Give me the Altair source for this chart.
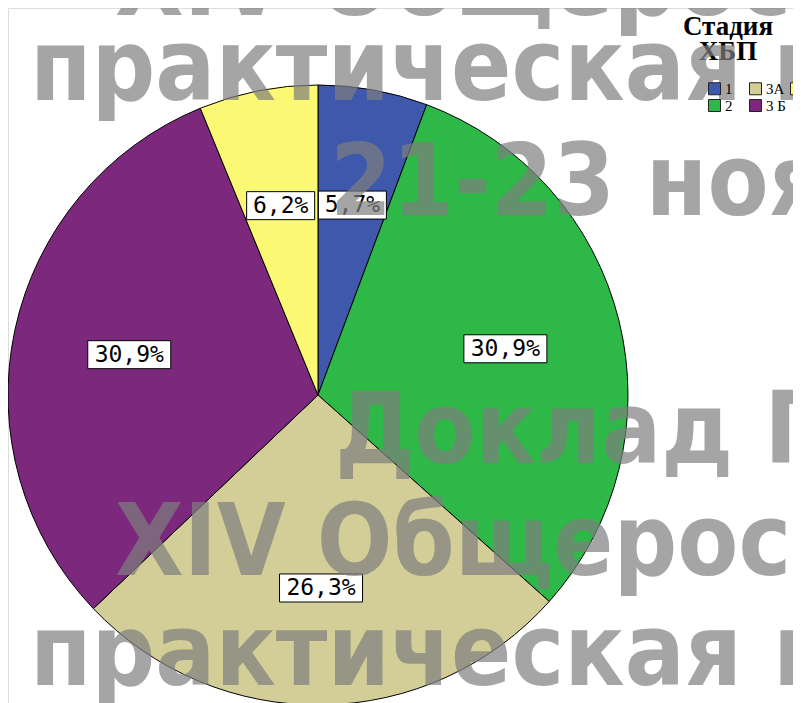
import altair as alt
import pandas as pd

# ---- data ----
stages = ["1", "2", "3А", "3 Б", "4"]
percent = [5.7, 30.9, 26.3, 30.9, 6.2]
labels = ["5,7%", "30,9%", "26,3%", "30,9%", "6,2%"]
stage_colors = ["#3E58AC", "#2EB848", "#D3CE97", "#7C287D", "#FBF873"]
legend_title = ["Стадия", "ХБП"]
watermark_lines = ["XIV Общероссийская", "практическая конференция", "21-23 ноября",
                   "Доклад П", "XIV Общероссийская", "практическая конференция"]

df = pd.DataFrame({"stage": stages, "pct": percent, "label": labels, "idx": list(range(len(stages)))})

# ---- layout constants ----
CX, CY, R, LR = 310, 387, 310, 193
W, H = 785, 695

color_scale = alt.Scale(domain=stages, range=stage_colors)

arc = alt.Chart(df).mark_arc(outerRadius=R, stroke="black", strokeWidth=1).encode(
    theta=alt.Theta("pct:Q", stack=True),
    order=alt.Order("idx:Q"),
    x=alt.value(CX),
    y=alt.value(CY),
    color=alt.Color(
        "stage:N",
        scale=color_scale,
        legend=alt.Legend(
            orient="none", legendX=699, legendY=73, columns=3, title=None,
            labelFont="Liberation Serif", labelFontSize=15, labelColor="black", labelOffset=3,
            symbolType="square", symbolSize=144, symbolStrokeColor="#222222", symbolStrokeWidth=1,
            symbolOpacity=1, gridAlign="all", columnPadding=2, rowPadding=0,
        ),
    ),
)

pos = alt.Chart(df).transform_window(
    cum="sum(pct)", sort=[alt.SortField("idx")], frame=[None, 0]
).transform_joinaggregate(total="sum(pct)").transform_calculate(
    mid="(datum.cum - datum.pct/2) / datum.total * 2 * PI",
    lx=f"{CX} + {LR} * sin(datum.mid)",
    ly=f"{CY} - {LR} * cos(datum.mid)",
    x1="datum.lx - (length(datum.label) * 15 + 8) / 2",
    x2="datum.lx + (length(datum.label) * 15 + 8) / 2",
    y1="datum.ly - 14",
    y2="datum.ly + 14",
)

boxes = pos.mark_rect(fill="white", stroke="black", strokeWidth=1).encode(
    x=alt.X("x1:Q", scale=None, axis=None),
    x2="x2:Q",
    y=alt.Y("y1:Q", scale=None, axis=None),
    y2="y2:Q",
)

texts = pos.mark_text(font="DejaVu Sans Mono", fontSize=23, color="black",
                      align="center", baseline="middle").encode(
    x=alt.X("lx:Q", scale=None, axis=None),
    y=alt.Y("ly:Q", scale=None, axis=None),
    text="label:N",
)

title_layers = []
for t, y in zip(legend_title, [27, 52]):
    title_layers.append(
        alt.Chart(pd.DataFrame({"t": [t]})).mark_text(
            font="Liberation Serif", fontWeight="bold", fontSize=27, color="black",
            align="center", baseline="alphabetic",
        ).encode(text="t:N", x=alt.value(720), y=alt.value(y))
    )

wm_pos = [(107, 7), (22, 92), (322, 207), (327, 455), (107, 567), (22, 677)]
wm_layers = []
for t, (x, y) in zip(watermark_lines, wm_pos):
    wm_layers.append(
        alt.Chart(pd.DataFrame({"t": [t]})).mark_text(
            font="DejaVu Sans Condensed", fontWeight="bold", fontSize=99,
            color="#7f7f7f", opacity=0.7, align="left", baseline="alphabetic",
        ).encode(text="t:N", x=alt.value(x), y=alt.value(y))
    )

chart = alt.layer(arc, boxes, texts, *title_layers, *wm_layers).properties(
    width=W, height=H, padding=0,
    autosize=alt.AutoSizeParams(type="none"),
).configure_view(stroke=None).configure(background="white")

chart.save("out.html", embed_options={"renderer": "svg", "actions": False})
